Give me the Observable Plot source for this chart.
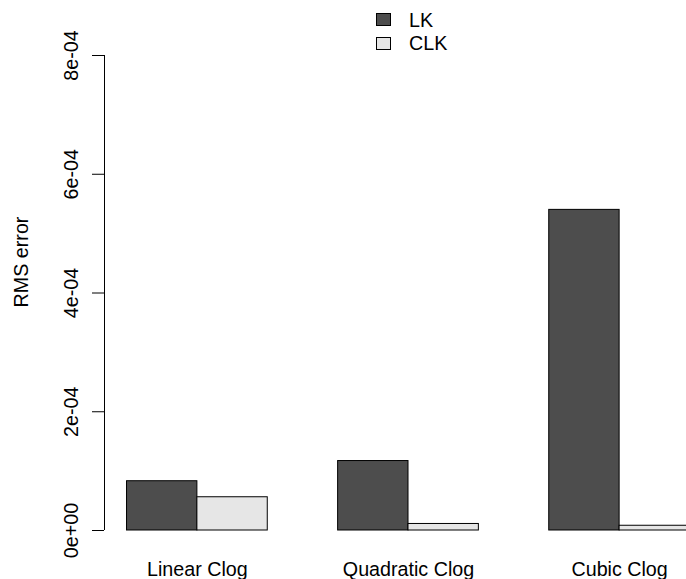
<!DOCTYPE html>
<html>
<head>
<meta charset="utf-8">
<script src="https://cdn.jsdelivr.net/npm/d3@7"></script>
<script src="https://cdn.jsdelivr.net/npm/@observablehq/plot@0.6"></script>
<style>
  html, body { margin: 0; padding: 0; background: #fff; overflow: hidden; }
  #wrap { position: relative; width: 686px; height: 579px; overflow: hidden;
          font-family: "Liberation Sans", Arial, Helvetica, sans-serif; }
  #wrap svg { position: absolute; left: 0; top: 0; }
  .leg-row { position: absolute; left: 376px; height: 20px; font-size: 19.7px; line-height: 19.7px; color: #000; }
  .leg-sw { position: absolute; left: 0; width: 13px; height: 11px; border: 1px solid #000; }
  .leg-tx { position: absolute; left: 33px; top: 0; white-space: nowrap; }
</style>
</head>
<body>
<div id="wrap"></div>
<script>
// ---- data ----
const groups = ["Linear Clog", "Quadratic Clog", "Cubic Clog"];
const series = ["LK", "CLK"];
const lkValues = [8.3e-5, 1.17e-4, 5.40e-4];
const clkValues = [5.6e-5, 1.1e-5, 8e-6];
const seriesColors = ["#4D4D4D", "#E6E6E6"];
const yTicks = [0, 2e-4, 4e-4, 6e-4, 8e-4];
const yTickLabels = ["0e+00", "2e-04", "4e-04", "6e-04", "8e-04"];
const yLabel = "RMS error";

// ---- table (R barplot beside=TRUE layout: bar width 1, gap 1 between groups) ----
const valuesBySeries = [lkValues, clkValues];
const rows = [];
groups.forEach((g, i) => {
  series.forEach((s, j) => {
    const x1 = 1 + i * (series.length + 1) + j;
    rows.push({group: g, series: s, value: valuesBySeries[j][i], base: 0, x1, x2: x1 + 1});
  });
});
const groupCenters = groups.map((g, i) => 1 + i * (series.length + 1) + series.length / 2);
const nBars = groups.length * (series.length + 1) - 1;
const xLo = 1 - 0.04 * nBars, xHi = 1 + nBars + 0.04 * nBars;
const yTop = yTicks[yTicks.length - 1];
const yLo = -0.04 * yTop, yHi = yTop * 1.04;

const font = '"Liberation Sans", Arial, Helvetica, sans-serif';

const chart = Plot.plot({
  width: 686,
  height: 579,
  marginLeft: 104,
  marginRight: -26,
  marginTop: 36,
  marginBottom: 30,
  style: {fontFamily: font, fontSize: "19.7px", background: "white", color: "black", overflow: "hidden"},
  x: {domain: [xLo, xHi], axis: null},
  y: {domain: [yLo, yHi], axis: null},
  color: {domain: series, range: seriesColors},
  marks: [
    Plot.rect(rows, {x1: "x1", x2: "x2", y1: "base", y2: "value", fill: "series", stroke: "black", strokeWidth: 1}),
    Plot.ruleX([xLo], {y1: yTicks[0], y2: yTop, stroke: "black", strokeWidth: 1}),
    Plot.axisY({
      ticks: yTicks,
      tickFormat: d => yTickLabels[yTicks.indexOf(d)],
      tickSize: 12,
      tickPadding: 14.5,
      tickRotate: -90,
      label: null,
      stroke: "black"
    }),
    Plot.axisX({
      ticks: groupCenters,
      tickFormat: d => groups[groupCenters.indexOf(d)],
      tickSize: 0,
      tickPadding: 12,
      label: null
    }),
    Plot.text([yLabel], {frameAnchor: "left", textAnchor: "middle", lineAnchor: "middle", dx: -82.5, dy: -31, rotate: -90, fill: "black"})
  ]
});

const wrap = document.getElementById("wrap");
wrap.appendChild(chart);

// ---- legend ----
const legTops = [10.6, 34];
series.forEach((s, j) => {
  const row = document.createElement("div");
  row.className = "leg-row";
  row.style.top = legTops[j] + "px";
  const sw = document.createElement("div");
  sw.className = "leg-sw";
  sw.style.background = seriesColors[j];
  sw.style.top = "2.7px";
  const tx = document.createElement("div");
  tx.className = "leg-tx";
  tx.textContent = s;
  row.appendChild(sw);
  row.appendChild(tx);
  wrap.appendChild(row);
});
</script>
</body>
</html>
